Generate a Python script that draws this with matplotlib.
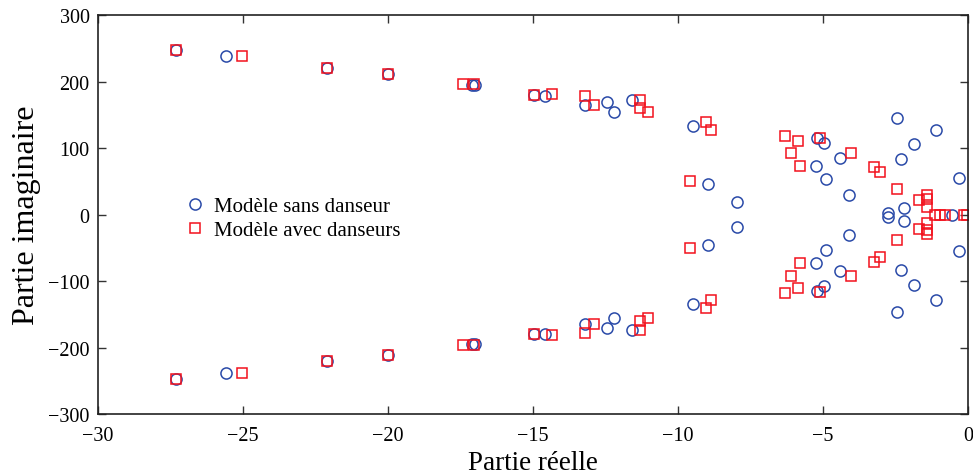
import numpy as np
from matplotlib import pyplot as plt

plt.rcParams['font.family'] = ['Liberation Serif', 'DejaVu Serif']
plt.rcParams['mathtext.fontset'] = 'stix'

# poles, model without dancers (upper half, lower half, real axis)
sans_re = [-27.3, -25.6, -22.1, -20.0, -17.12, -17.0, -14.95, -14.6, -13.2, -12.45,
           -12.2, -11.6, -9.5, -8.95, -7.95, -5.2, -4.95, -5.25, -4.9, -4.4,
           -4.1, -2.45, -2.3, -1.85, -1.1, -0.3, -2.75, -2.2,
           -27.3, -25.6, -22.1, -20.0, -17.12, -17.0, -14.95, -14.6, -13.2, -12.45,
           -12.2, -11.6, -9.5, -8.95, -7.95, -5.2, -4.95, -5.25, -4.9, -4.4,
           -4.1, -2.45, -2.3, -1.85, -1.1, -0.3, -2.75, -2.2,
           -0.55]
sans_im = [247, 238, 220, 211, 195, 195, 180, 179, 165, 170,
           155, 173, 134, 46, 19, 115, 107, 73, 53, 85,
           30, 146, 84, 106, 128, 55, 3, 10,
           -247, -238, -220, -211, -195, -195, -180, -179, -165, -170,
           -155, -173, -134, -46, -19, -115, -107, -73, -53, -85,
           -30, -146, -84, -106, -128, -55, -3, -10,
           0]

# poles, model with dancers
avec_re = [-27.3, -25.05, -22.1, -20.0, -17.4, -17.05, -14.95, -14.35, -13.2, -12.9,
           -11.3, -11.3, -11.05, -9.05, -8.85, -9.6, -6.3, -5.85, -6.1, -5.8,
           -5.1, -4.05, -3.25, -3.05, -2.45, -1.7, -1.4, -1.4, -1.4,
           -27.3, -25.05, -22.1, -20.0, -17.4, -17.05, -14.95, -14.35, -13.2, -12.9,
           -11.3, -11.3, -11.05, -9.05, -8.85, -9.6, -6.3, -5.85, -6.1, -5.8,
           -5.1, -4.05, -3.25, -3.05, -2.45, -1.7, -1.4, -1.4, -1.4,
           -1.15, -0.97, -0.8, -0.15, -0.05]
avec_im = [247, 238, 220, 211, 196, 196, 180, 181, 178, 165,
           173, 160, 155, 140, 128, 51, 118, 111, 92, 73,
           116, 93, 71, 64, 38, 22, 29, 23, 12,
           -247, -238, -220, -211, -196, -196, -180, -181, -178, -165,
           -173, -160, -155, -140, -128, -51, -118, -111, -92, -73,
           -116, -93, -71, -64, -38, -22, -29, -23, -12,
           0, 0, 0, 0, 0]

xticks = [-30, -25, -20, -15, -10, -5, 0]
yticks = [-300, -200, -100, 0, 100, 200, 300]

fig = plt.figure(figsize=(9.73, 4.77), dpi=100)
ax = fig.add_axes([0.1007, 0.130, 0.8942, 0.836])

ax.plot(sans_re, sans_im, 'o', ms=8, mfc='none', mec='#2a4aa8', mew=1.1,
        label='Modèle sans danseur')
ax.plot(avec_re, avec_im, 's', ms=7.3, mfc='none', mec='#f2111c', mew=1.1,
        label='Modèle avec danseurs')

ax.set_xlim(-30, 0)
ax.set_ylim(-300, 300)
ax.set_xticks(xticks)
ax.set_yticks(yticks)
ax.set_xticklabels(['\u2212' + str(-t) if t < 0 else str(t) for t in xticks])
ax.set_yticklabels(['\u2212' + str(-t) if t < 0 else str(t) for t in yticks])
ax.tick_params(direction='in', top=True, right=True, length=6, width=1,
               labelsize=14.5, color='#333333')
ax.tick_params(axis='x', pad=9)
ax.tick_params(axis='y', pad=6)
for s in ax.spines.values():
    s.set_linewidth(1.2)
    s.set_color('#222222')

ax.set_xlabel('Partie réelle', fontsize=19.5, labelpad=3)
ax.set_ylabel('Partie imaginaire', fontsize=23, labelpad=5)

ax.legend(loc='center left', bbox_to_anchor=(0.19, 0.540), bbox_transform=fig.transFigure,
          frameon=False, fontsize=15, handlelength=1, handletextpad=0.4,
          labelspacing=0.2, borderpad=0, borderaxespad=0)

plt.savefig('out.png', dpi=100)
